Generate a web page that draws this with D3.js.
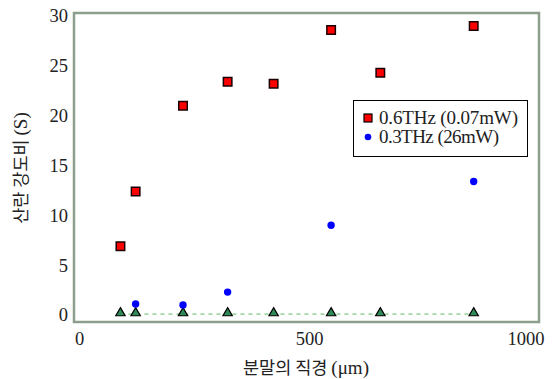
<!DOCTYPE html>
<html>
<head>
<meta charset="utf-8">
<script src="https://cdn.jsdelivr.net/npm/d3@7"></script>
<style>
  body { margin: 0; background: #fff; }
</style>
</head>
<body>
<svg id="chart" width="552" height="379"></svg>
<script>
// powder diameter (um) and scattering ratio S
const diameters = [90, 123, 226, 323, 423, 548, 655, 858];
const ratio06 = [6.9, 12.4, 21.0, 23.4, 23.2, 28.6, 24.3, 29.0];
const diameters03 = [123, 226, 323, 548, 858];
const ratio03 = [1.1, 1.0, 2.3, 9.0, 13.4];
const ratioRef = [0.2, 0.2, 0.2, 0.2, 0.2, 0.2, 0.2, 0.2];
const xTicks = [0, 500, 1000];
const yTicks = [0, 5, 10, 15, 20, 25, 30];
const legendLabels = ["0.6THz (0.07mW)", "0.3THz (26mW)"];

const serif = "'Liberation Serif', 'Times New Roman', serif";
const korean = "'Noto Sans CJK KR', sans-serif";

const svg = d3.select("#chart");

const x = d3.scaleLinear()
  .domain([-11, 1000])
  .range([74, 539]);
const y = d3.scaleLinear()
  .domain([-0.7, 30.3])
  .range([322, 13]);

// frame
svg.append("rect")
  .attr("x", x.range()[0])
  .attr("y", y.range()[1])
  .attr("width", x.range()[1] - x.range()[0])
  .attr("height", y.range()[0] - y.range()[1])
  .attr("fill", "none")
  .attr("stroke", "#8c9e8c")
  .attr("stroke-width", 2.5);

// axes: labels only, no tick lines
const xAxis = svg.append("g")
  .attr("transform", "translate(0," + (y.range()[0] + 6) + ")")
  .call(d3.axisBottom(x).tickValues(xTicks).tickFormat(d3.format("d")).tickSize(0).tickPadding(4));
const yAxis = svg.append("g")
  .attr("transform", "translate(" + (x.range()[0] - 6) + ",0)")
  .call(d3.axisLeft(y).tickValues(yTicks).tickSize(0).tickPadding(0));
[xAxis, yAxis].forEach(g => {
  g.select(".domain").remove();
  g.attr("font-family", null);
  g.selectAll("text")
    .style("font-family", serif)
    .style("font-size", "18.5px")
    .attr("fill", "#222");
});
// keep the last x label inside the picture
xAxis.selectAll(".tick text")
  .filter(d => d === 1000)
  .attr("text-anchor", "end")
  .attr("dx", 5);

// dashed reference line and triangles
svg.append("path")
  .datum(ratioRef)
  .attr("fill", "none")
  .attr("stroke", "#a2d8a2")
  .attr("stroke-width", 1.8)
  .attr("stroke-dasharray", "4,4")
  .attr("d", d3.line()
    .x((d, i) => x(diameters[i]))
    .y(d => y(d) + 1)
  );

svg.selectAll(".tri")
  .data(ratioRef)
  .enter()
  .append("path")
  .attr("class", "tri")
  .attr("transform", (d, i) => "translate(" + x(diameters[i]) + "," + y(d) + ")")
  .attr("d", d3.symbol().type(d3.symbolTriangle).size(38))
  .attr("fill", "#2e8b57")
  .attr("stroke", "#000")
  .attr("stroke-width", 1.2);

// 0.3THz points
svg.selectAll(".dot")
  .data(ratio03)
  .enter()
  .append("circle")
  .attr("class", "dot")
  .attr("cx", (d, i) => x(diameters03[i]))
  .attr("cy", d => y(d))
  .attr("r", 3.7)
  .attr("fill", "#0000ff");

// 0.6THz points
svg.selectAll(".sq")
  .data(ratio06)
  .enter()
  .append("path")
  .attr("class", "sq")
  .attr("transform", (d, i) => "translate(" + x(diameters[i]) + "," + y(d) + ")")
  .attr("d", d3.symbol().type(d3.symbolSquare).size(72))
  .attr("fill", "#ff0000")
  .attr("stroke", "#1a0000")
  .attr("stroke-width", 1.5);

// legend
const legend = svg.append("g");
legend.append("rect")
  .attr("x", 353.5)
  .attr("y", 100.5)
  .attr("width", 174)
  .attr("height", 56)
  .attr("fill", "#fff")
  .attr("stroke", "#000")
  .attr("stroke-width", 1);
legend.append("rect")
  .attr("x", 364)
  .attr("y", 114)
  .attr("width", 8)
  .attr("height", 8)
  .attr("fill", "#ff0000")
  .attr("stroke", "#000")
  .attr("stroke-width", 1.2);
legend.append("circle")
  .attr("cx", 368)
  .attr("cy", 137)
  .attr("r", 3.3)
  .attr("fill", "#0000ff");
legend.selectAll(".lg")
  .data(legendLabels)
  .enter()
  .append("text")
  .attr("class", "lg")
  .attr("x", 379)
  .attr("y", (d, i) => 124 + i * 19)
  .style("font-family", serif)
  .style("font-size", "19px")
  .attr("textLength", (d, i) => i === 0 ? 139 : 120)
  .attr("fill", "#222")
  .text(d => d);

// axis titles: Hangul in a CJK font, the bracket part in serif
const xTitle = svg.append("text")
  .attr("x", 306)
  .attr("y", 374)
  .attr("text-anchor", "middle")
  .attr("fill", "#222")
  .style("font-size", "17.5px");
xTitle.append("tspan").style("font-family", korean).text("분말의 직경 ");
xTitle.append("tspan").style("font-family", serif).style("font-size", "19px").text("(μm)");

const yTitle = svg.append("text")
  .attr("transform", "translate(27,168) rotate(-90)")
  .attr("text-anchor", "middle")
  .attr("fill", "#222")
  .style("font-size", "17.5px");
yTitle.append("tspan").style("font-family", korean).text("산란 강도비 ");
yTitle.append("tspan").style("font-family", serif).style("font-size", "19px").text("(S)");
</script>
</body>
</html>
